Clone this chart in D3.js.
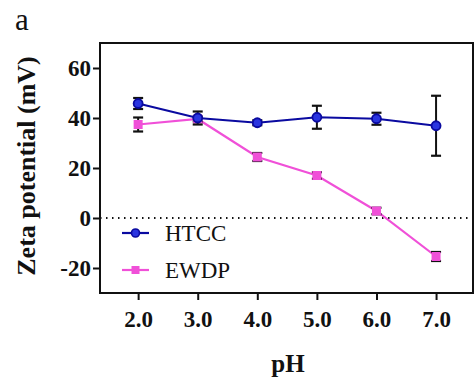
<!DOCTYPE html>
<html>
<head>
<meta charset="utf-8">
<script src="https://cdn.jsdelivr.net/npm/d3@7"></script>
<style>
  body { margin: 0; background: #fff; }
</style>
</head>
<body>
<svg width="475" height="382"></svg>
<script>
// data
var ph = [2.0, 3.0, 4.0, 5.0, 6.0, 7.0];
var htcc = [45.8, 40.0, 38.1, 40.3, 39.7, 36.9];
var htccErr = [2.2, 2.6, 1.0, 4.6, 2.4, 12.0];
var ewdp = [37.4, 39.6, 24.4, 17.0, 2.8, -15.4];
var ewdpErr = [2.8, 1.0, 1.6, 1.3, 1.3, 1.8];
var yTicks = [-20, 0, 20, 40, 60];

var serif = "'Liberation Serif', 'Times New Roman', serif";
var svg = d3.select("svg");
var margin = {left: 100, top: 43, right: 473, bottom: 293};

var x = d3.scaleLinear().domain([1.36, 7.62]).range([margin.left, margin.right]);
var y = d3.scaleLinear().domain([-30, 70]).range([margin.bottom, margin.top]);

// frame
svg.append("rect")
  .attr("x", margin.left).attr("y", margin.top)
  .attr("width", margin.right - margin.left)
  .attr("height", margin.bottom - margin.top)
  .attr("fill", "none").attr("stroke", "#111").attr("stroke-width", 2);

// zero line
svg.append("line")
  .attr("x1", margin.left).attr("x2", margin.right)
  .attr("y1", y(0)).attr("y2", y(0))
  .attr("stroke", "#111").attr("stroke-width", 2)
  .attr("stroke-dasharray", "1.5,4.5");

// axes
var yAxis = svg.append("g")
  .attr("transform", "translate(" + margin.left + ",0)")
  .call(d3.axisLeft(y).tickValues(yTicks).tickSize(7).tickPadding(2)
    .tickFormat(function(d) { return String(d); }));
var xAxis = svg.append("g")
  .attr("transform", "translate(0," + margin.bottom + ")")
  .call(d3.axisBottom(x).tickValues(ph).tickSize(7).tickPadding(11).tickFormat(d3.format(".1f")));
[xAxis, yAxis].forEach(function(g) {
  g.attr("font-family", serif).attr("font-size", 23);
  g.select(".domain").remove();
  g.selectAll("line").attr("stroke", "#111").attr("stroke-width", 2);
  g.selectAll("text").attr("fill", "#111").attr("font-weight", "bold");
});

// series
function drawSeries(vals, errs, color, edge, marker) {
  var pts = ph.map(function(p, i) { return {x: p, y: vals[i], e: errs[i]}; });
  var g = svg.append("g");
  g.append("path").datum(pts)
    .attr("fill", "none").attr("stroke", edge).attr("stroke-width", 2.2)
    .attr("d", d3.line().x(function(d) { return x(d.x); }).y(function(d) { return y(d.y); }));
  var eb = g.selectAll(".eb").data(pts).enter().append("g");
  eb.append("line")
    .attr("x1", function(d) { return x(d.x); }).attr("x2", function(d) { return x(d.x); })
    .attr("y1", function(d) { return y(d.y + d.e); }).attr("y2", function(d) { return y(d.y - d.e); })
    .attr("stroke", "#111").attr("stroke-width", 2);
  [1, -1].forEach(function(s) {
    eb.append("line")
      .attr("x1", function(d) { return x(d.x) - 5; }).attr("x2", function(d) { return x(d.x) + 5; })
      .attr("y1", function(d) { return y(d.y + s * d.e); }).attr("y2", function(d) { return y(d.y + s * d.e); })
      .attr("stroke", "#111").attr("stroke-width", 2.2);
  });
  if (marker == "circle") {
    g.selectAll(".m").data(pts).enter().append("circle")
      .attr("cx", function(d) { return x(d.x); }).attr("cy", function(d) { return y(d.y); })
      .attr("r", 4.5).attr("fill", color).attr("stroke", edge).attr("stroke-width", 1.8);
  } else {
    g.selectAll(".m").data(pts).enter().append("rect")
      .attr("x", function(d) { return x(d.x) - 4.5; }).attr("y", function(d) { return y(d.y) - 4.5; })
      .attr("width", 9).attr("height", 9).attr("fill", color);
  }
}
drawSeries(ewdp, ewdpErr, "#f050d8", "#f050d8", "square");
drawSeries(htcc, htccErr, "#2a35e0", "#0a0aa0", "circle");

// legend
var legend = [
  {name: "HTCC", color: "#2a35e0", edge: "#0a0aa0", marker: "circle", y: 233},
  {name: "EWDP", color: "#f050d8", edge: "#f050d8", marker: "square", y: 270}
];
legend.forEach(function(l) {
  svg.append("line").attr("x1", 122).attr("x2", 149).attr("y1", l.y).attr("y2", l.y)
    .attr("stroke", l.edge).attr("stroke-width", 2.2);
  if (l.marker == "circle") {
    svg.append("circle").attr("cx", 135.5).attr("cy", l.y).attr("r", 4)
      .attr("fill", l.color).attr("stroke", l.edge).attr("stroke-width", 1.6);
  } else {
    svg.append("rect").attr("x", 131.5).attr("y", l.y - 4).attr("width", 8).attr("height", 8)
      .attr("fill", l.color);
  }
  svg.append("text").attr("x", 165).attr("y", l.y + 8)
    .attr("font-family", serif).attr("font-size", 23).attr("fill", "#111").text(l.name);
});

// titles
svg.append("text").attr("x", 288).attr("y", 372).attr("text-anchor", "middle")
  .attr("font-family", serif).attr("font-size", 25).attr("font-weight", "bold")
  .attr("fill", "#111").text("pH");
svg.append("text").attr("transform", "translate(35,166) rotate(-90)").attr("text-anchor", "middle")
  .attr("font-family", serif).attr("font-size", 26).attr("font-weight", "bold")
  .attr("fill", "#111").text("Zeta potential (mV)");
svg.append("text").attr("x", 15).attr("y", 30)
  .attr("font-family", serif).attr("font-size", 31).attr("fill", "#111").text("a");
</script>
</body>
</html>
